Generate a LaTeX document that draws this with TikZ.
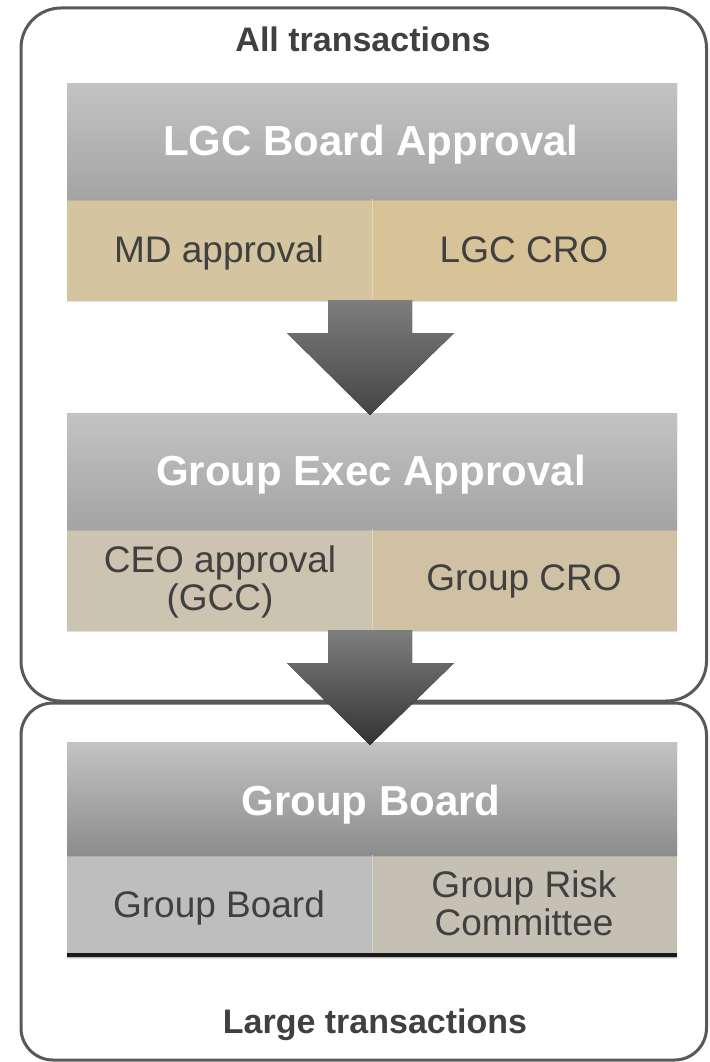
\documentclass[tikz,border=0pt]{standalone}
\usepackage{fontspec}
\setmainfont{Liberation Sans}
\usetikzlibrary{shadows}
\definecolor{framec}{HTML}{595959}
\definecolor{titlec}{HTML}{404040}
\definecolor{celltxt}{HTML}{404040}
\definecolor{hdtop}{HTML}{C3C3C3}
\definecolor{hdbot}{HTML}{A4A4A4}
\definecolor{hdbotb}{HTML}{8C8C8C}
\definecolor{aL}{HTML}{D4C4A0}
\definecolor{aR}{HTML}{D8C398}
\definecolor{bL}{HTML}{CCC3B1}
\definecolor{bR}{HTML}{D1C1A4}
\definecolor{cL}{HTML}{BEBEBE}
\definecolor{cR}{HTML}{C4C0B4}
\definecolor{arrtop}{HTML}{7E7E7E}
\definecolor{arrbot}{HTML}{444444}
\begin{document}
\begin{tikzpicture}[x=1pt,y=-1pt,
  frame/.style={draw=framec,line width=3pt},
  hdr/.style={shape=rectangle,anchor=north west,minimum width=610pt,minimum height=116pt,inner sep=0pt,top color=hdtop,bottom color=hdbot,
     drop shadow={shadow xshift=0pt,shadow yshift=-2pt,opacity=0.25}},
  cell/.style={shape=rectangle,anchor=north west,minimum width=305pt,minimum height=101pt,inner sep=0pt},
  hdtext/.style={anchor=base,text=white,font=\fontsize{42pt}{46pt}\selectfont\bfseries,inner sep=0pt},
  ctext/.style={anchor=base,text=celltxt,font=\fontsize{37pt}{38pt}\selectfont,inner sep=0pt,align=center},
  ttext/.style={anchor=base,text=titlec,font=\fontsize{34pt}{38pt}\selectfont\bfseries,inner sep=0pt},
  bigarrow/.style={top color=arrtop,bottom color=arrbot,draw=none}
]
\useasboundingbox (0,0) rectangle (709,1062);
% frames
\draw[frame,rounded corners=40pt] (21,8) rectangle (706.5,701);
\draw[frame,rounded corners=32pt] (21,703) rectangle (706.5,1060);
\node[ttext] (t1) at (363,52) {All transactions};
\node[ttext] (t2) at (375,1033) {Large transactions};
% block 1
\node[hdr,minimum height=217pt,top color=aL,bottom color=aL] (b1) at (67,83) {};
\node[cell,fill=aL] (c1l) at (67,199) {};
\node[cell,fill=aR] (c1r) at (372,199) {};
\node[hdr,drop shadow={opacity=0}] (h1) at (67,83) {};
\draw[aR!70!white,line width=0.8pt] (c1l.north east) -- (c1l.south east);
% block 2
\node[hdr,minimum height=217pt,top color=bL,bottom color=bL] (b2) at (67,413) {};
\node[cell,fill=bL] (c2l) at (67,529) {};
\node[cell,fill=bR] (c2r) at (372,529) {};
\node[hdr,drop shadow={opacity=0}] (h2) at (67,413) {};
\draw[bR!70!white,line width=0.8pt] (c2l.north east) -- (c2l.south east);
% block 3
\node[hdr,minimum height=215pt,top color=cL,bottom color=cL] (b3) at (67,742) {};
\node[cell,fill=cL,minimum height=102pt] (c3l) at (67,855) {};
\node[cell,fill=cR,minimum height=102pt] (c3r) at (372,855) {};
\node[hdr,minimum height=113pt,bottom color=hdbotb,drop shadow={opacity=0}] (h3) at (67,742) {};
\draw[cR!70!white,line width=0.8pt] (c3l.north east) -- (c3l.south east);
\draw[black!90,line width=4pt] (c3l.south west) ++(0,-2) coordinate (bl) -- (c3r.south east |- bl);
% texts
\node[hdtext] (h1t) at (371,155) {LGC Board Approval};
\node[ctext] (c1lt) at (219,262) {MD approval};
\node[ctext] (c1rt) at (524,262) {LGC CRO};
\node[hdtext] (h2t) at (371,485) {Group Exec Approval};
\node[ctext] (c2lt) at (220,572) {CEO approval};
\node[ctext] (c2lt2) at (220,610) {(GCC)};
\node[ctext] (c2rt) at (524,590) {Group CRO};
\node[hdtext] (h3t) at (371,815) {Group Board};
\node[ctext] (c3lt) at (219,917) {Group Board};
\node[ctext] (c3rt) at (524,897) {Group Risk};
\node[ctext] (c3rt2) at (524,935) {Committee};
% arrows
\coordinate (a1s) at (c1l.south east);
\fill[bigarrow] (328,300) -- (412,300) -- (412,333) -- (454,333) -- (370,415) -- (287,333) -- (328,333) -- cycle;
\fill[bigarrow,bottom color=black!80] (328,630) -- (412,630) -- (412,663) -- (454,663) -- (370,745) -- (287,663) -- (328,663) -- cycle;
\end{tikzpicture}
\end{document}
